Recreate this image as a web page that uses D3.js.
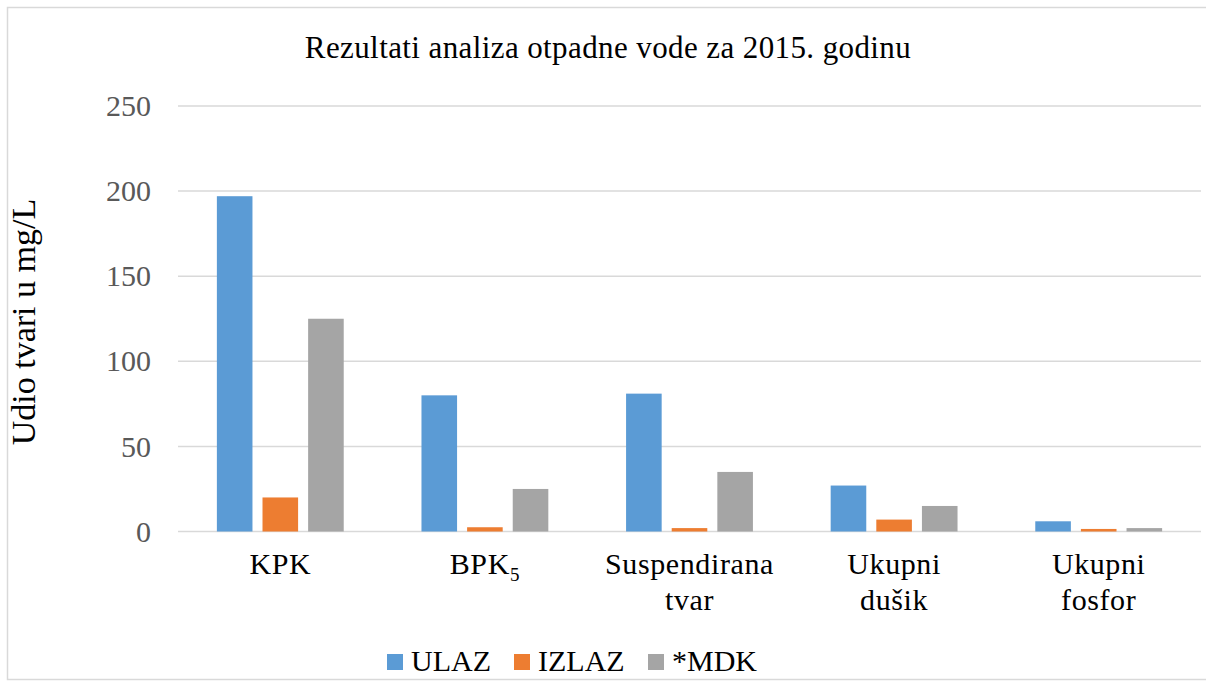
<!DOCTYPE html>
<html>
<head>
<meta charset="utf-8">
<script src="https://cdn.jsdelivr.net/npm/d3@7"></script>
<style>
  body { margin: 0; background: #fff; }
  text { font-family: "Liberation Serif", "Times New Roman", serif; }
</style>
</head>
<body>
<svg id="chart"></svg>
<script>
const categories = ["KPK", "BPK5", "Suspendirana tvar", "Ukupni dušik", "Ukupni fosfor"];
const series = ["ULAZ", "IZLAZ", "*MDK"];
const ulaz = [197, 80, 81, 27, 6];
const izlaz = [20, 2.5, 2, 7, 1.5];
const mdk = [125, 25, 35, 15, 2];
const yTicks = [0, 50, 100, 150, 200, 250];
const colors = ["#5B9BD5", "#ED7D31", "#A5A5A5"];

const width = 1206, height = 681;
const svg = d3.select("#chart").attr("width", width).attr("height", height);

// chart frame
svg.append("rect")
    .attr("x", 7.5).attr("y", 7.5)
    .attr("width", 1210).attr("height", 672)
    .attr("fill", "#fff").attr("stroke", "#d9d9d9").attr("stroke-width", 1.5);

const plot = { left: 178, right: 1201, top: 106, bottom: 531.5 };

const y = d3.scaleLinear().domain([0, 250]).range([plot.bottom, plot.top]);
const x0 = d3.scaleBand().domain(categories).range([plot.left, plot.right])
    .paddingInner(0.38).paddingOuter(0.19);
const x1 = d3.scaleBand().domain(series).range([0, x0.bandwidth()]).paddingInner(0.22);

const table = categories.map((c, i) => ({ cat: c, vals: [ulaz[i], izlaz[i], mdk[i]] }));

// gridlines
svg.append("g").selectAll("line")
    .data(yTicks)
    .enter().append("line")
    .attr("x1", plot.left).attr("x2", plot.right)
    .attr("y1", d => y(d)).attr("y2", d => y(d))
    .attr("stroke", "#d9d9d9").attr("stroke-width", 1.5);

// y axis labels
const yAxis = d3.axisLeft(y).tickValues(yTicks).tickSize(0).tickPadding(0);
const ya = svg.append("g").attr("transform", `translate(151,0)`).call(yAxis);
ya.select(".domain").remove();
ya.selectAll("text")
    .attr("font-family", "Liberation Serif")
    .attr("font-size", 30).attr("fill", "#595959");

// bars
const groups = svg.append("g").selectAll("g")
    .data(table)
    .enter().append("g")
    .attr("transform", d => `translate(${x0(d.cat)},0)`);

groups.selectAll("rect")
    .data(d => d.vals.map((v, j) => ({ key: series[j], v, j })))
    .enter().append("rect")
    .attr("x", d => x1(d.key))
    .attr("width", x1.bandwidth())
    .attr("y", d => y(d.v))
    .attr("height", d => y(0) - y(d.v))
    .attr("fill", d => colors[d.j]);

// category labels
const catG = svg.append("g");
categories.forEach(c => {
    const cx = x0(c) + x0.bandwidth() / 2;
    const t = catG.append("text")
        .attr("x", cx).attr("y", 574)
        .attr("text-anchor", "middle")
        .attr("font-size", 30).attr("letter-spacing", 0.6).attr("fill", "#000");
    if (c === "BPK5") {
        t.append("tspan").text("BPK");
        t.append("tspan").attr("font-size", 19).attr("dy", 7).text("5");
    } else {
        const words = c.split(" ");
        words.forEach((w, k) => {
            t.append("tspan").attr("x", cx).attr("dy", k === 0 ? 0 : 36).text(w);
        });
    }
});

// title
svg.append("text")
    .attr("x", 608).attr("y", 58)
    .attr("text-anchor", "middle")
    .attr("font-size", 31).attr("letter-spacing", 0.4).attr("fill", "#000")
    .text("Rezultati analiza otpadne vode za 2015. godinu");

// y axis title
svg.append("text")
    .attr("transform", "translate(35,322) rotate(-90)")
    .attr("text-anchor", "middle")
    .attr("font-size", 34).attr("fill", "#000")
    .text("Udio tvari u mg/L");

// legend
const legendX = [387, 514, 648];
const lg = svg.append("g");
series.forEach((s, i) => {
    lg.append("rect")
        .attr("x", legendX[i]).attr("y", 654)
        .attr("width", 16).attr("height", 16)
        .attr("fill", colors[i]);
    lg.append("text")
        .attr("x", legendX[i] + 24).attr("y", 671)
        .attr("font-size", 30).attr("fill", "#000")
        .text(s);
});
</script>
</body>
</html>
